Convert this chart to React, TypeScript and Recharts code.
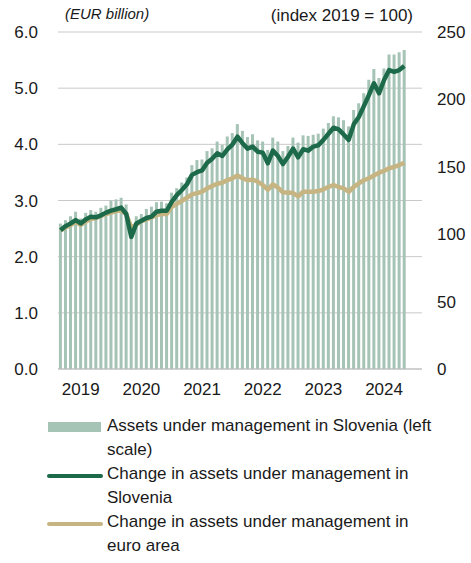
import {
  ComposedChart,
  Bar,
  Line,
  XAxis,
  YAxis,
  CartesianGrid,
  Legend,
} from "recharts";

// categories: monthly, Jan 2019 – Dec 2024 (data runs to Sep 2024)
const YEARS = [2019, 2020, 2021, 2022, 2023, 2024];
const MONTHS = ["01", "02", "03", "04", "05", "06", "07", "08", "09", "10", "11", "12"];
const categories = YEARS.flatMap((y) => MONTHS.map((m) => `${y}-${m}`));
const yearTicks = YEARS.map((y) => `${y}-05`);

const leftTicks = [0, 1, 2, 3, 4, 5, 6];
const rightTicks = [0, 50, 100, 150, 200, 250];

// EUR billion (left scale)
const assetsSlovenia = [
  2.59, 2.65, 2.72, 2.8, 2.68, 2.78, 2.83, 2.8, 2.87, 2.91, 3.0, 3.02,
  3.05, 2.93, 2.5, 2.72, 2.76, 2.85, 2.89, 2.97, 2.98, 2.95, 3.14, 3.22,
  3.32, 3.41, 3.63, 3.72, 3.73, 3.88, 3.93, 4.05, 3.99, 4.14, 4.2, 4.36,
  4.24, 4.13, 4.18, 4.07, 4.05, 3.9, 4.12, 4.05, 3.88, 3.97, 4.12, 4.03,
  4.16, 4.15, 4.17, 4.19, 4.28, 4.38, 4.5, 4.48, 4.43, 4.32, 4.61, 4.73,
  4.91, 5.15, 5.34, 5.18, 5.35, 5.6, 5.6, 5.64, 5.68,
];

// index 2019 = 100 (right scale)
const indexSlovenia = [
  103, 106, 108, 110.5, 108, 111, 113, 112.5, 114, 116, 117.5, 118.5,
  119.7, 115, 98, 108, 110, 112, 113, 116.7, 117.4, 117.4, 124, 129,
  132.8, 137, 144, 146, 147.3, 153, 156, 160, 158, 163, 166.5, 172.3,
  167.5, 163.5, 165, 161.2, 160.5, 152.6, 162, 158, 152, 157.5, 163.5, 157,
  163, 162, 165, 166, 170, 174.5, 179, 177.8, 174, 170, 181.5, 187,
  195, 203.3, 212, 204.5, 214.4, 221.8, 220.5, 221.8, 224.8,
];

const indexEuroArea = [
  102.6, 105, 106.8, 109.3, 106.8, 109.5, 111.3, 112, 113.5, 115, 116, 117.2,
  117.5, 115, 105, 107, 109.8, 111, 112.5, 114.2, 115, 115, 120.4, 122.5,
  124.8, 127, 129.5, 130.5, 131.5, 134, 135.8, 137.4, 138.2, 140.2, 141.5, 143.5,
  141.5, 140, 140.5, 139, 136.5, 133, 137, 134.5, 131, 131, 130.5, 128,
  131.5, 131.5, 131.5, 132, 133.3, 135, 136.5, 135, 134, 131.5, 135, 137.8,
  140, 141.5, 143.5, 145.6, 147, 148.9, 150, 151.3, 153,
];

const BAR_COLOR = "#a6c4b6";
const SLO_COLOR = "#1d6a4a";
const EA_COLOR = "#c6b582";
const TEXT_COLOR = "#1a1a1a";
const FONT = "'Liberation Sans', Arial, sans-serif";

const chartData = categories.map((month, i) => ({
  month,
  assets: assetsSlovenia[i] ?? null,
  slo: indexSlovenia[i] ?? null,
  ea: indexEuroArea[i] ?? null,
}));

const legendItems = [
  { kind: "bar", color: BAR_COLOR, lines: ["Assets under management in Slovenia (left", "scale)"] },
  { kind: "line", color: SLO_COLOR, lines: ["Change in assets under management in", "Slovenia"] },
  { kind: "line", color: EA_COLOR, lines: ["Change in assets under management in", "euro area"] },
];

function LegendBox() {
  return (
    <div style={{ position: "relative", width: 471, height: 144, fontFamily: FONT, fontSize: 17, color: TEXT_COLOR }}>
      {legendItems.map((item, k) => (
        <div key={k} style={{ position: "absolute", left: 0, top: k * 48, width: 471, height: 48 }}>
          {item.kind === "bar" ? (
            <div style={{ position: "absolute", left: 48, top: 7.5, width: 53, height: 10.5, background: item.color }} />
          ) : (
            <div style={{ position: "absolute", left: 47, top: 11.5, width: 56, height: 4.5, borderRadius: 3, background: item.color }} />
          )}
          <div style={{ position: "absolute", left: 107, top: 0, lineHeight: "24px", whiteSpace: "nowrap" }}>
            {item.lines.map((t) => (
              <div key={t}>{t}</div>
            ))}
          </div>
        </div>
      ))}
    </div>
  );
}

export default function App() {
  const tick = { fontSize: 17, fill: TEXT_COLOR, fontFamily: FONT };
  return (
    <div style={{ position: "relative", width: 471, height: 563, fontFamily: FONT }}>
      <style>{`body{margin:0}`}</style>
      <ComposedChart
        width={471}
        height={563}
        data={chartData}
        margin={{ top: 32, right: 0, bottom: 163, left: 0 }}
        barCategoryGap="18%"
      >
        <CartesianGrid yAxisId="left" vertical={false} stroke="#c9c9c9" />
        <XAxis
          dataKey="month"
          ticks={yearTicks}
          interval={0}
          tickFormatter={(v) => String(v).slice(0, 4)}
          tick={tick}
          tickLine={false}
          tickSize={0}
          tickMargin={14}
          height={31}
          axisLine={{ stroke: "#bdbdbd" }}
        />
        <YAxis
          yAxisId="left"
          orientation="left"
          domain={[0, 6]}
          ticks={leftTicks}
          tickFormatter={(v) => Number(v).toFixed(1)}
          tick={tick}
          width={58}
          axisLine={false}
          tickLine={false}
          tickSize={0}
          tickMargin={20}
        />
        <YAxis
          yAxisId="right"
          orientation="right"
          domain={[0, 250]}
          ticks={rightTicks}
          tick={{ ...tick, textAnchor: "start" }}
          width={49}
          axisLine={false}
          tickLine={false}
          tickSize={0}
          tickMargin={15}
        />
        <Bar yAxisId="left" dataKey="assets" fill={BAR_COLOR} isAnimationActive={false} />
        <Line
          yAxisId="right"
          type="linear"
          dataKey="ea"
          stroke={EA_COLOR}
          strokeWidth={4.5}
          dot={false}
          activeDot={false}
          strokeLinejoin="round"
          isAnimationActive={false}
        />
        <Line
          yAxisId="right"
          type="linear"
          dataKey="slo"
          stroke={SLO_COLOR}
          strokeWidth={4.5}
          dot={false}
          activeDot={false}
          strokeLinejoin="round"
          isAnimationActive={false}
        />
        <Legend
          layout="horizontal"
          verticalAlign="middle"
          align="center"
          wrapperStyle={{ top: 414, left: 0, width: 471 }}
          content={() => <LegendBox />}
        />
      </ComposedChart>
      <div
        style={{
          position: "absolute",
          left: 65,
          top: 6,
          fontSize: 15,
          lineHeight: "16px",
          fontStyle: "italic",
          color: TEXT_COLOR,
        }}
      >
        (EUR billion)
      </div>
      <div
        style={{
          position: "absolute",
          right: 58,
          top: 6,
          fontSize: 17,
          lineHeight: "19px",
          color: TEXT_COLOR,
        }}
      >
        (index 2019 = 100)
      </div>
    </div>
  );
}
